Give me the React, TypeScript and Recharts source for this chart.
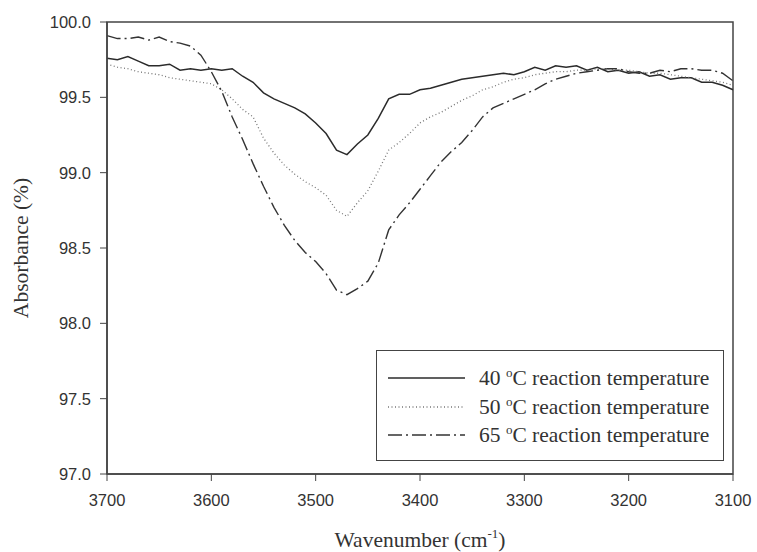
import React from "react";
import {
  LineChart,
  Line,
  XAxis,
  YAxis,
  Legend,
  Label,
  ReferenceArea,
} from "recharts";

// wavenumber grid, 3700 -> 3100 in 10 cm-1 steps
const wavenumbers = [
  3700, 3690, 3680, 3670, 3660, 3650, 3640, 3630, 3620, 3610, 3600, 3590, 3580,
  3570, 3560, 3550, 3540, 3530, 3520, 3510, 3500, 3490, 3480, 3470, 3460, 3450,
  3440, 3430, 3420, 3410, 3400, 3390, 3380, 3370, 3360, 3350, 3340, 3330, 3320,
  3310, 3300, 3290, 3280, 3270, 3260, 3250, 3240, 3230, 3220, 3210, 3200, 3190,
  3180, 3170, 3160, 3150, 3140, 3130, 3120, 3110, 3100,
];

const temp40 = [
  99.76, 99.75, 99.77, 99.74, 99.71, 99.71, 99.72, 99.68, 99.69, 99.68, 99.69,
  99.68, 99.69, 99.64, 99.6, 99.53, 99.49, 99.46, 99.43, 99.39, 99.33, 99.26,
  99.15, 99.12, 99.19, 99.25, 99.36, 99.49, 99.52, 99.52, 99.55, 99.56, 99.58,
  99.6, 99.62, 99.63, 99.64, 99.65, 99.66, 99.65, 99.67, 99.7, 99.68, 99.71,
  99.7, 99.71, 99.68, 99.7, 99.67, 99.68, 99.66, 99.67, 99.64, 99.65, 99.62,
  99.63, 99.63, 99.6, 99.6, 99.58, 99.55,
];

const temp50 = [
  99.72, 99.7, 99.69, 99.67, 99.66, 99.65, 99.63, 99.62, 99.61, 99.6, 99.59,
  99.55, 99.49, 99.42, 99.37, 99.23, 99.13, 99.05, 98.99, 98.94, 98.9, 98.85,
  98.75, 98.71, 98.8, 98.88, 99.01, 99.15, 99.2, 99.26, 99.33, 99.37, 99.4,
  99.44, 99.48, 99.51, 99.55, 99.57, 99.6, 99.62, 99.63, 99.65, 99.66, 99.67,
  99.67, 99.68, 99.68, 99.69, 99.69, 99.68, 99.68, 99.67, 99.66, 99.66, 99.65,
  99.64, 99.63, 99.62, 99.61, 99.6, 99.58,
];

const temp65 = [
  99.91, 99.89, 99.89, 99.9, 99.88, 99.9, 99.87, 99.86, 99.84, 99.78, 99.67,
  99.54, 99.37, 99.22, 99.06, 98.91, 98.77, 98.65, 98.55, 98.47, 98.41, 98.33,
  98.22, 98.19, 98.23, 98.28, 98.4, 98.62, 98.72, 98.8, 98.89, 98.98, 99.07,
  99.14, 99.2, 99.28, 99.37, 99.43, 99.46, 99.49, 99.52, 99.55, 99.59, 99.62,
  99.64, 99.66, 99.67, 99.68, 99.69, 99.69, 99.67, 99.66, 99.66, 99.68, 99.67,
  99.69, 99.69, 99.68, 99.68, 99.66, 99.61,
];

const xTicks = [3700, 3600, 3500, 3400, 3300, 3200, 3100];
const yTicks = [97.0, 97.5, 98.0, 98.5, 99.0, 99.5, 100.0];

const seriesNames = ["40", "50", "65"];

const data = wavenumbers.map((w, i) => ({
  w,
  t40: temp40[i],
  t50: temp50[i],
  t65: temp65[i],
}));

const AXIS = "#444";
const SERIF = "'Liberation Serif', 'Times New Roman', serif";
const SANS = "'Liberation Sans', Arial, sans-serif";

const styles = [
  { stroke: "#2b2b2b", strokeWidth: 1.5, dash: undefined },
  { stroke: "#777", strokeWidth: 1.3, dash: "1 2.5" },
  { stroke: "#333", strokeWidth: 1.4, dash: "14 4 2 4" },
];

function LegendBox() {
  return (
    <div
      style={{
        border: `1.5px solid ${AXIS}`,
        background: "#fff",
        width: 348,
        height: 111,
        boxSizing: "border-box",
        paddingTop: 13,
        fontFamily: SERIF,
        fontSize: 21.5,
        color: "#333",
      }}
    >
      {seriesNames.map((name, i) => (
        <div
          key={name}
          style={{ display: "flex", alignItems: "center", height: 28.5 }}
        >
          <svg width={91} height={10} style={{ marginLeft: 11 }}>
            <line
              x1={0}
              x2={77}
              y1={5}
              y2={5}
              stroke={styles[i].stroke}
              strokeWidth={styles[i].strokeWidth}
              strokeDasharray={styles[i].dash}
            />
          </svg>
          <span style={{ whiteSpace: "nowrap", lineHeight: "28px" }}>
            {name}{" "}
            <sup style={{ fontSize: 13, verticalAlign: "8px", lineHeight: 0 }}>
              o
            </sup>
            C reaction temperature
          </span>
        </div>
      ))}
    </div>
  );
}

export default function App() {
  return (
    <div style={{ position: "fixed", left: 0, top: 0, background: "#fff" }}>
      <LineChart
        width={757}
        height={552}
        data={data}
        margin={{ top: 22, right: 24, left: 0, bottom: 0 }}
      >
        <XAxis
          dataKey="w"
          type="number"
          domain={[3100, 3700]}
          reversed
          ticks={xTicks}
          height={78}
          tickSize={7}
          tickMargin={13}
          tickLine={{ stroke: AXIS }}
          axisLine={{ stroke: AXIS, strokeWidth: 1.5 }}
          tick={{ fill: "#333", fontSize: 16.5, fontFamily: SANS }}
        >
          <Label
            content={({ viewBox }: any) => (
              <text
                x={viewBox.x + viewBox.width / 2}
                y={viewBox.y + 72.5}
                textAnchor="middle"
                fontFamily={SERIF}
                fontSize={21.5}
                fill="#333"
              >
                Wavenumber (cm
                <tspan fontSize={13} dy={-9}>
                  -1
                </tspan>
                <tspan dy={9}>)</tspan>
              </text>
            )}
          />
        </XAxis>
        <YAxis
          type="number"
          domain={[97, 100]}
          ticks={yTicks}
          width={107}
          tickSize={7}
          tickMargin={9}
          tickFormatter={(v: number) => v.toFixed(1)}
          tickLine={{ stroke: AXIS }}
          axisLine={{ stroke: AXIS, strokeWidth: 1.5 }}
          tick={{ fill: "#333", fontSize: 16.5, fontFamily: SANS }}
        >
          <Label
            content={({ viewBox }: any) => {
              const x = viewBox.x + 28;
              const y = viewBox.y + viewBox.height / 2;
              return (
                <text
                  x={x}
                  y={y}
                  transform={`rotate(-90, ${x}, ${y})`}
                  textAnchor="middle"
                  fontFamily={SERIF}
                  fontSize={21.5}
                  fill="#333"
                >
                  Absorbance (%)
                </text>
              );
            }}
          />
        </YAxis>
        <ReferenceArea
          x1={3700}
          x2={3100}
          y1={97}
          y2={100}
          fill="none"
          stroke={AXIS}
          strokeWidth={1.5}
          ifOverflow="visible"
        />
        <Line
          dataKey="t40"
          type="linear"
          dot={false}
          stroke={styles[0].stroke}
          strokeWidth={styles[0].strokeWidth}
          isAnimationActive={false}
        />
        <Line
          dataKey="t50"
          type="linear"
          dot={false}
          stroke={styles[1].stroke}
          strokeWidth={styles[1].strokeWidth}
          strokeDasharray={styles[1].dash}
          isAnimationActive={false}
        />
        <Line
          dataKey="t65"
          type="linear"
          dot={false}
          stroke={styles[2].stroke}
          strokeWidth={styles[2].strokeWidth}
          strokeDasharray={styles[2].dash}
          isAnimationActive={false}
        />
        <Legend
          layout="vertical"
          align="center"
          verticalAlign="middle"
          wrapperStyle={{ left: 376, top: 350, width: 348 }}
          content={() => <LegendBox />}
        />
      </LineChart>
    </div>
  );
}
